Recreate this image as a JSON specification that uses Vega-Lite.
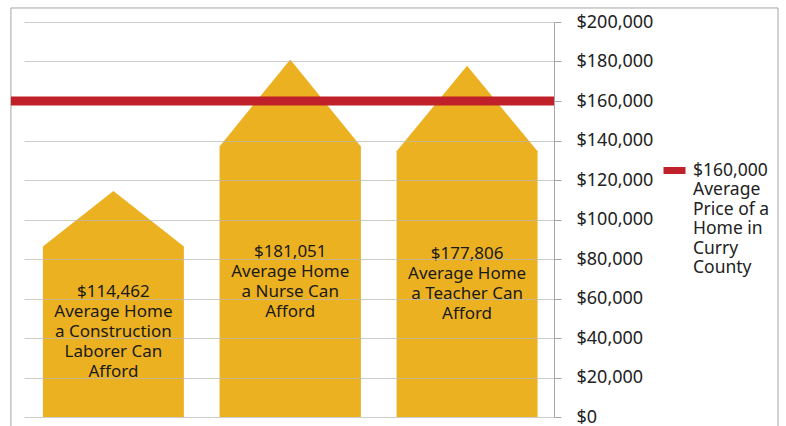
{
  "$schema": "https://vega.github.io/schema/vega-lite/v6.json",
  "width": 530,
  "height": 395,
  "autosize": {"type": "none"},
  "padding": {"left": 24, "top": 22, "right": 232, "bottom": 9},
  "config": {
    "view": {"stroke": null},
    "font": "Noto Sans",
    "text": {"font": "Noto Sans"},
    "axisY": {"tickCount": 12, "labelOverlap": false, "labelBound": false, "labelFlush": false}
  },
  "datasets": {
    "vertices": [
      {"house": "Construction Laborer", "pos": 0.107, "height": 86300},
      {"house": "Construction Laborer", "pos": 0.506, "height": 114462},
      {"house": "Construction Laborer", "pos": 0.905, "height": 86300},
      {"house": "Nurse", "pos": 1.107, "height": 137000},
      {"house": "Nurse", "pos": 1.507, "height": 181051},
      {"house": "Nurse", "pos": 1.907, "height": 137000},
      {"house": "Teacher", "pos": 2.109, "height": 134500},
      {"house": "Teacher", "pos": 2.508, "height": 177806},
      {"house": "Teacher", "pos": 2.907, "height": 134500}
    ],
    "houses": [
      {"house": "Construction Laborer", "pos": 0.506, "value": 114462, "shoulder": 86300, "label": "$114,462\nAverage Home\na Construction\nLaborer Can\nAfford"},
      {"house": "Nurse", "pos": 1.507, "value": 181051, "shoulder": 137000, "label": "$181,051\nAverage Home\na Nurse Can\nAfford"},
      {"house": "Teacher", "pos": 2.508, "value": 177806, "shoulder": 134500, "label": "$177,806\nAverage Home\na Teacher Can\nAfford"}
    ],
    "price": [
      {"price": 160000, "name": "$160,000|Average|Price of a|Home in|Curry|County"}
    ]
  },
  "layer": [
    {
      "data": {"values": [{}]},
      "mark": {"type": "rect", "fillOpacity": 0, "stroke": "#a6a6a6", "strokeWidth": 1},
      "encoding": {
        "x": {"datum": -0.074, "type": "quantitative", "scale": {"domain": [0, 3], "nice": false, "zero": false}, "axis": null},
        "x2": {"datum": 4.268},
        "y": {
          "datum": 207100, "type": "quantitative",
          "scale": {"domain": [0, 200000], "nice": false},
          "axis": {
            "orient": "right",
            "title": null,
            "grid": true,
            "tickCount": 12,
            "values": [0, 20000, 40000, 60000, 80000, 100000, 120000, 140000, 160000, 180000, 200000],
            "format": "$,d",
            "labelOverlap": false,
            "labelFont": "Noto Sans",
            "labelFontSize": 18,
            "labelColor": "#222222",
            "labelPadding": 15,
            "tickSize": 7,
            "tickColor": "#a6a6a6",
            "domainColor": "#a6a6a6",
            "gridColor": "#b8b8b8",
            "gridOpacity": {"condition": {"test": "datum.value === 160000", "value": 0}, "value": 0.7},
            "zindex": 1
          }
        },
        "y2": {"datum": -20000}
      }
    },
    {
      "data": {"name": "vertices"},
      "mark": {"type": "area", "color": "#ecb121", "interpolate": "linear"},
      "encoding": {
        "x": {"field": "pos", "type": "quantitative"},
        "y": {"field": "height", "type": "quantitative"},
        "y2": {"datum": 0},
        "detail": {"field": "house"}
      }
    },
    {
      "data": {"name": "houses"},
      "transform": [{"calculate": "datum.shoulder / 2 + (length(split(datum.label, '\\n')) - 1) * 5063", "as": "labelY"}],
      "mark": {"type": "text", "lineBreak": "\n", "fontSize": 17, "lineHeight": 20, "color": "#1a1a1a", "align": "center", "baseline": "middle"},
      "encoding": {
        "x": {"field": "pos", "type": "quantitative"},
        "y": {"field": "labelY", "type": "quantitative"},
        "text": {"field": "label"}
      }
    },
    {
      "data": {"name": "price"},
      "mark": {"type": "rule", "strokeWidth": 9},
      "encoding": {
        "x": {"datum": -0.074, "type": "quantitative"},
        "x2": {"datum": 3},
        "y": {"field": "price", "type": "quantitative"},
        "color": {
          "field": "name", "type": "nominal",
          "scale": {"range": ["#c0202a"]},
          "legend": {
            "title": null,
            "orient": "none",
            "legendX": 636,
            "legendY": 134,
            "padding": 0,
            "symbolType": "stroke",
            "symbolSize": 484,
            "symbolStrokeWidth": 7,
            "labelFont": "Noto Sans",
            "labelFontSize": 17.5,
            "labelColor": "#222222",
            "labelOffset": 4,
            "labelLimit": 300,
            "labelBaseline": "middle",
            "labelExpr": "split(datum.label, '|')"
          }
        }
      }
    }
  ]
}
